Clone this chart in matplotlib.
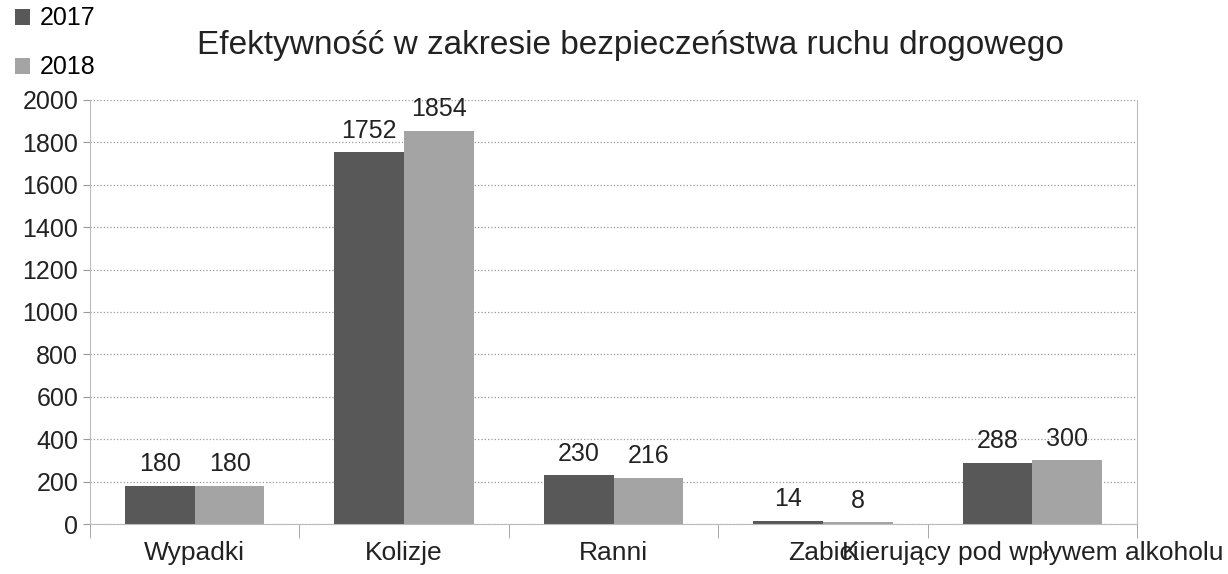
import numpy as np
import matplotlib
matplotlib.use("Agg")
from matplotlib import pyplot as plt

plt.rcParams['font.family'] = ['Liberation Sans', 'DejaVu Sans']

categories = ['Wypadki', 'Kolizje', 'Ranni', 'Zabici', 'Kierujący pod wpływem alkoholu']
values_2017 = [180, 1752, 230, 14, 288]
values_2018 = [180, 1854, 216, 8, 300]
series_labels = ['2017', '2018']

fig = plt.figure(figsize=(12.28, 5.74), dpi=100)
ax = fig.add_axes([0.0733, 0.0871, 0.8527, 0.7389])

x = np.arange(len(categories))
w = 0.333
b1 = ax.bar(x - w / 2, values_2017, w, color='#585858', label=series_labels[0], zorder=2)
b2 = ax.bar(x + w / 2, values_2018, w, color='#a4a4a4', label=series_labels[1], zorder=2)

for bars in (b1, b2):
    ax.bar_label(bars, padding=7, fontsize=18, color='#222222')

ax.set_xlim(-0.5, len(categories) - 0.5)
ax.set_ylim(0, 2000)
ax.set_yticks(range(0, 2001, 200))
ax.tick_params(axis='y', labelsize=18, length=5, color='#999999', labelcolor='#222222')

ax.set_xticks(x)
ax.set_xticklabels(categories, fontsize=19, color='#222222')
ax.tick_params(axis='x', length=0, pad=12)
ax.set_xticks(np.arange(-0.5, len(categories)), minor=True)
ax.tick_params(axis='x', which='minor', length=10, color='#999999')

ax.grid(axis='y', linestyle=':', color='#999999', linewidth=0.9, zorder=0)
ax.spines['top'].set_visible(False)
for s in ('left', 'right', 'bottom'):
    ax.spines[s].set_color('#bbbbbb')

fig.text(0.513, 0.92, 'Efektywność w zakresie bezpieczeństwa ruchu drogowego',
         ha='center', va='center', fontsize=24, color='#222222')

fig.legend(loc='upper left', bbox_to_anchor=(0.0, 1.015), frameon=False, fontsize=18,
           handlelength=0.6, handleheight=0.6, handletextpad=0.4, labelspacing=1.0,
           borderaxespad=0.2)

fig.savefig('out.png', dpi=100)
